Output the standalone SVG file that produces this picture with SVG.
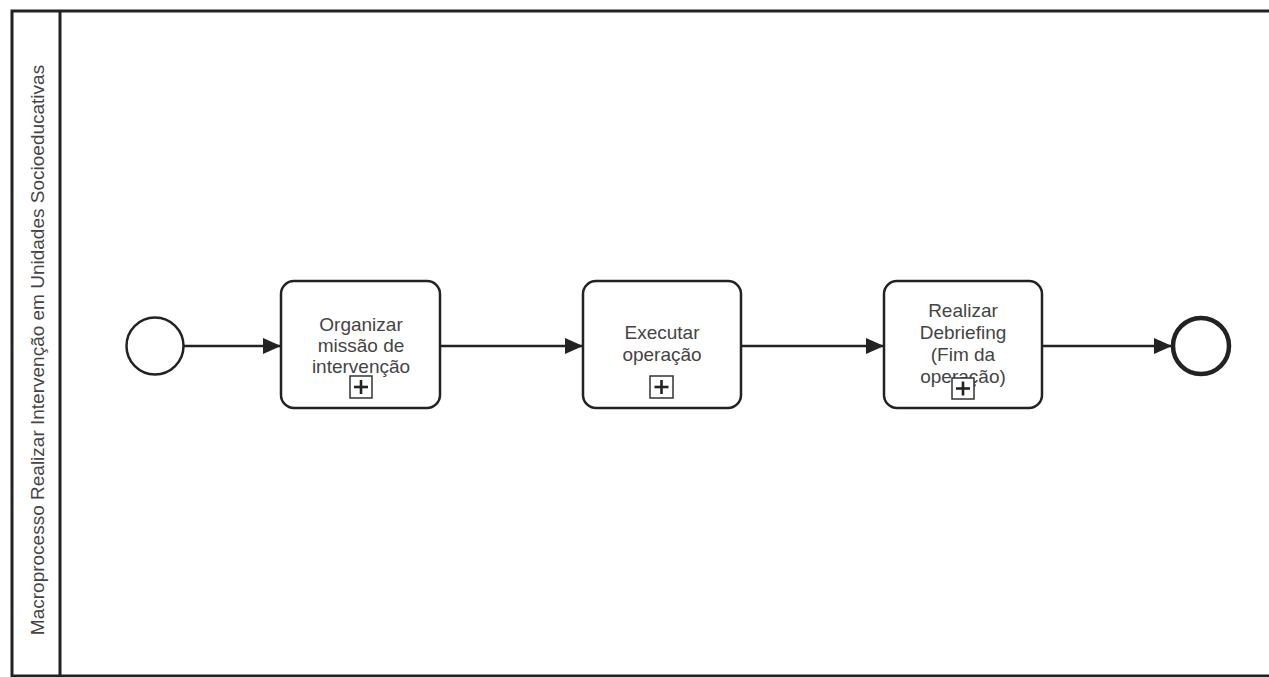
<svg xmlns="http://www.w3.org/2000/svg" width="1269" height="677" viewBox="0 0 1269 677">
<defs>
<style>
.ln{fill:none;stroke:#222;stroke-width:2.5}
.task{fill:#fff;stroke:#222;stroke-width:2.5}
.t{font-family:"Liberation Sans",Arial,sans-serif;font-size:19px;fill:#444;text-anchor:middle}
.pm{fill:#fff;stroke:#333;stroke-width:1.5}
.pl{stroke:#222;stroke-width:2.6}
</style>
<marker id="arr" markerWidth="18" markerHeight="16" refX="18" refY="8" orient="auto" markerUnits="userSpaceOnUse">
<path d="M0,0 L18,8 L0,16 Z" fill="#222"/>
</marker>
</defs>
<rect width="1269" height="677" fill="#fff"/>
<g id="pool">
<rect x="12" y="11" width="1280" height="665" fill="none" stroke="#222" stroke-width="3"/>
<line x1="60" y1="11" x2="60" y2="676" stroke="#222" stroke-width="3"/>
<text class="t" transform="translate(44,350) rotate(-90)">Macroprocesso Realizar Intervenção em Unidades Socioeducativas</text>
</g>
<g id="connectors">
<line class="ln" x1="184" y1="346" x2="281" y2="346" marker-end="url(#arr)"/>
<line class="ln" x1="441" y1="346" x2="583" y2="346" marker-end="url(#arr)"/>
<line class="ln" x1="742" y1="346" x2="884" y2="346" marker-end="url(#arr)"/>
<line class="ln" x1="1043" y1="346" x2="1172" y2="346" marker-end="url(#arr)"/>
</g>
<g id="start">
<circle cx="155" cy="346" r="28.5" fill="#fff" stroke="#222" stroke-width="2.5"/>
</g>
<g id="task1">
<rect class="task" x="281" y="281" width="159" height="127" rx="13"/>
<text class="t" x="361" y="331">Organizar</text>
<text class="t" x="361" y="352">missão de</text>
<text class="t" x="361" y="373">intervenção</text>
<rect class="pm" x="350" y="376" width="22" height="22"/>
<line class="pl" x1="354" y1="387" x2="368" y2="387"/>
<line class="pl" x1="361" y1="380" x2="361" y2="394"/>
</g>
<g id="task2">
<rect class="task" x="583" y="281" width="158" height="127" rx="13"/>
<text class="t" x="662" y="339">Executar</text>
<text class="t" x="662" y="361">operação</text>
<rect class="pm" x="650" y="376" width="23" height="22"/>
<line class="pl" x1="654.5" y1="387" x2="668.5" y2="387"/>
<line class="pl" x1="661.5" y1="380" x2="661.5" y2="394"/>
</g>
<g id="task3">
<rect class="task" x="884" y="281" width="158" height="127" rx="13"/>
<text class="t" x="963" y="317">Realizar</text>
<text class="t" x="963" y="339">Debriefing</text>
<text class="t" x="963" y="361">(Fim da</text>
<text class="t" x="963" y="383">operação)</text>
<rect class="pm" x="952" y="378" width="22" height="21"/>
<line class="pl" x1="956" y1="388.5" x2="970" y2="388.5"/>
<line class="pl" x1="963" y1="381.5" x2="963" y2="395.5"/>
</g>
<g id="end">
<circle cx="1201" cy="346" r="28" fill="#fff" stroke="#222" stroke-width="4.5"/>
</g>
</svg>
